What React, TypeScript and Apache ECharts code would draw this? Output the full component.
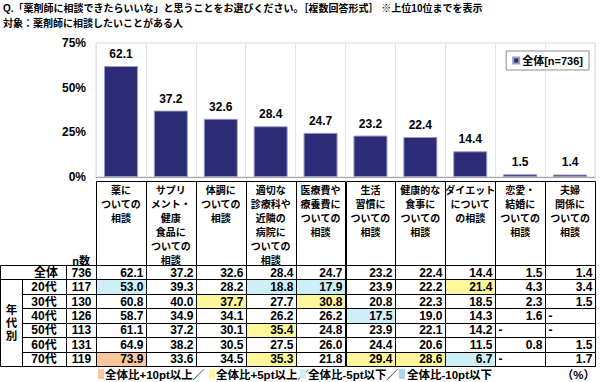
import React, { useEffect, useRef } from "react";
import * as echarts from "echarts";

const TITLE_1 = "Q.「薬剤師に相談できたらいいな」と思うことをお選びください。［複数回答形式］ ※上位10位までを表示";
const TITLE_2 = "対象：薬剤師に相談したいことがある人";

const CATEGORIES = [
  "薬に\nついての\n相談",
  "サプリ\nメント・\n健康\n食品に\nついての\n相談",
  "体調に\nついての\n相談",
  "適切な\n診療科や\n近隣の\n病院に\nついての\n相談",
  "医療費や\n療養費に\nついての\n相談",
  "生活\n習慣に\nついての\n相談",
  "健康的な\n食事に\nついての\n相談",
  "ダイエット\nについて\nの相談",
  "恋愛・\n結婚に\nついての\n相談",
  "夫婦\n関係に\nついての\n相談",
];

const SERIES_NAME = "全体[n=736]";
const OVERALL_LABEL = "全体";
const OVERALL_N = 736;
const OVERALL = [62.1, 37.2, 32.6, 28.4, 24.7, 23.2, 22.4, 14.4, 1.5, 1.4];

const AGE_GROUP_LABEL = "年\n代\n別";
const AGE_LABELS = ["20代", "30代", "40代", "50代", "60代", "70代"];
const AGE_N = [117, 130, 126, 113, 131, 119];
const AGE_20 = [53.0, 39.3, 28.2, 18.8, 17.9, 23.9, 22.2, 21.4, 4.3, 3.4];
const AGE_30 = [60.8, 40.0, 37.7, 27.7, 30.8, 20.8, 22.3, 18.5, 2.3, 1.5];
const AGE_40 = [58.7, 34.9, 34.1, 26.2, 26.2, 17.5, 19.0, 14.3, 1.6, null];
const AGE_50 = [61.1, 37.2, 30.1, 35.4, 24.8, 23.9, 22.1, 14.2, null, null];
const AGE_60 = [64.9, 38.2, 30.5, 27.5, 26.0, 24.4, 20.6, 11.5, 0.8, 1.5];
const AGE_70 = [73.9, 33.6, 34.5, 35.3, 21.8, 29.4, 28.6, 6.7, null, 1.7];
const AGE_VALUES: (number | null)[][] = [AGE_20, AGE_30, AGE_40, AGE_50, AGE_60, AGE_70];

const Y_MIN = 0;
const Y_MAX = 75;
const Y_INTERVAL = 25;

const N_HEADER = "n数";
const LEGEND_ITEMS = ["全体比+10pt以上／", "全体比+5pt以上／", "全体比-5pt以下／", "全体比-10pt以下"];
const UNIT = "（%）";

const C_ORANGE = "#FAC79C";
const C_YELLOW = "#FFF79C";
const C_CYAN = "#CCEFF8";
const C_BLUE = "#A8D4F0";
const BAR_COLOR = "#2C2B76";

const FONT = "'Liberation Sans', 'Noto Sans CJK JP', sans-serif";

function cellColor(v: number | null, base: number): string {
  if (v == null) return "#FFFFFF";
  const d = Math.round((v - base) * 10) / 10;
  if (d >= 10) return C_ORANGE;
  if (d >= 5) return C_YELLOW;
  if (d <= -10) return C_BLUE;
  if (d <= -5) return C_CYAN;
  return "#FFFFFF";
}

const ROW_LABELS = [OVERALL_LABEL, ...AGE_LABELS];
const ROW_N = [OVERALL_N, ...AGE_N];
const ROW_VALUES: (number | null)[][] = [OVERALL, ...AGE_VALUES];

type Cell = { c: number; r: number; v: number | null; fill: string };
const CELLS: Cell[] = [];
ROW_VALUES.forEach((row, r) => {
  row.forEach((v, c) => {
    CELLS.push({ c, r, v, fill: r === 0 ? "#FFFFFF" : cellColor(v, OVERALL[c]) });
  });
});

const HEADER_H = 84;
const px = (v: number) => Math.round(v) + 0.5;

export default function App() {
  const ref = useRef<HTMLDivElement>(null);
  useEffect(() => {
    if (!ref.current) return;
    const chart = echarts.init(ref.current, null, { renderer: "svg" });

    const legendX = [98, 209, 300, 399];
    const legendTextX = [105, 216, 308, 407];

    const option: any = {
      animation: false,
      textStyle: { fontFamily: FONT },
      grid: [
        { left: 96, right: 5, top: 43, bottom: 205, show: true, borderColor: "#D9D9D9", borderWidth: 1 },
        { left: 96, right: 5, top: 265, bottom: 16 },
      ],
      legend: {
        data: [SERIES_NAME],
        right: 11,
        top: 51,
        icon: "rect",
        itemWidth: 6,
        itemHeight: 6,
        itemGap: 4,
        padding: [4, 6, 4, 6],
        borderColor: "#8C8C8C",
        borderWidth: 1,
        backgroundColor: "#FFFFFF",
        textStyle: { fontSize: 11, fontWeight: "bold", color: "#000", fontFamily: FONT, padding: [0, 0, 0, -2] },
      },
      xAxis: [
        {
          type: "category",
          gridIndex: 0,
          data: CATEGORIES,
          axisLine: { show: true, lineStyle: { color: "#A6A6A6" } },
          axisTick: { show: false },
          splitLine: { show: true, lineStyle: { color: "#E3E3E3" } },
          axisLabel: {
            interval: 0,
            margin: 6,
            fontSize: 10,
            lineHeight: 14,
            fontWeight: "bold",
            color: "#000",
            fontFamily: FONT,
          },
        },
        { type: "category", gridIndex: 1, data: CATEGORIES, show: false },
      ],
      yAxis: [
        {
          type: "value",
          gridIndex: 0,
          min: Y_MIN,
          max: Y_MAX,
          interval: Y_INTERVAL,
          axisLine: { show: false },
          axisTick: { show: false },
          splitLine: { show: false },
          axisLabel: { formatter: "{value}%", fontSize: 12, fontWeight: "bold", color: "#000", margin: 10, fontFamily: FONT },
        },
        { type: "category", gridIndex: 1, data: ROW_LABELS, inverse: true, show: false },
      ],
      series: [
        {
          name: SERIES_NAME,
          type: "bar",
          xAxisIndex: 0,
          yAxisIndex: 0,
          data: OVERALL,
          barWidth: 34,
          itemStyle: { color: BAR_COLOR, borderColor: "#9C9CC8", borderWidth: 1 },
          label: {
            show: true,
            position: "top",
            distance: 6,
            fontSize: 12,
            fontWeight: "bold",
            color: "#000",
            fontFamily: FONT,
            formatter: (p: any) => Number(p.value).toFixed(1),
          },
        },
        {
          type: "custom",
          xAxisIndex: 1,
          yAxisIndex: 1,
          data: CELLS.map((cell) => [cell.c, cell.r]),
          renderItem: (params: any, api: any) => {
            const cell = CELLS[params.dataIndex];
            const p = api.coord([cell.c, cell.r]);
            const s = api.size([1, 1]);
            const x0 = px(p[0] - s[0] / 2);
            const x1 = px(p[0] + s[0] / 2);
            const y0 = px(p[1] - s[1] / 2);
            const y1 = px(p[1] + s[1] / 2);
            const children: any[] = [
              {
                type: "rect",
                shape: { x: x0, y: y0, width: x1 - x0, height: y1 - y0 },
                style: { fill: cell.fill, stroke: "#000", lineWidth: 1 },
              },
              {
                type: "text",
                style: {
                  text: cell.v == null ? "-" : cell.v.toFixed(1),
                  x: cell.v == null ? x0 + 3 : x1 - 3,
                  y: p[1] + 0.5,
                  align: cell.v == null ? "left" : "right",
                  verticalAlign: "middle",
                  fontSize: 12,
                  fontWeight: "bold",
                  fontFamily: FONT,
                  fill: "#000",
                },
              },
            ];
            if (cell.r === 0) {
              children.push({
                type: "rect",
                shape: { x: x0, y: y0 - HEADER_H, width: x1 - x0, height: HEADER_H },
                style: { fill: "none", stroke: "#000", lineWidth: 1 },
              });
            }
            return { type: "group", children };
          },
        },
        {
          type: "custom",
          xAxisIndex: 1,
          yAxisIndex: 1,
          data: ROW_LABELS.map((_, r) => [0, r]),
          renderItem: (params: any, api: any) => {
            const r = params.dataIndex;
            const p = api.coord([0, r]);
            const h = api.size([1, 1])[1];
            const y0 = px(p[1] - h / 2);
            const y1 = px(p[1] + h / 2);
            const xa = 0.5, xb = 22.5, xc = 66.5, xd = px(p[0] - api.size([1, 1])[0] / 2);
            const textStyle = (text: string, x: number) => ({
              text,
              x,
              y: p[1] + 0.5,
              align: "center",
              verticalAlign: "middle",
              fontSize: 12,
              fontWeight: "bold",
              fontFamily: FONT,
              fill: "#000",
            });
            const children: any[] = [];
            const labelLeft = r === 0 ? xa : xb;
            children.push({
              type: "rect",
              shape: { x: labelLeft, y: y0, width: xc - labelLeft, height: y1 - y0 },
              style: { fill: "#fff", stroke: "#000", lineWidth: 1 },
            });
            children.push({ type: "text", style: textStyle(ROW_LABELS[r], r === 0 ? 46 : 44) });
            children.push({
              type: "rect",
              shape: { x: xc, y: y0, width: xd - xc, height: y1 - y0 },
              style: { fill: "#fff", stroke: "#000", lineWidth: 1 },
            });
            children.push({ type: "text", style: textStyle(String(ROW_N[r]), (xc + xd) / 2) });
            if (r === 1) {
              const hh = Math.round(h * AGE_LABELS.length);
              children.push({
                type: "rect",
                shape: { x: xa, y: y0, width: xb - xa, height: hh },
                style: { fill: "#fff", stroke: "#000", lineWidth: 1 },
              });
              children.push({
                type: "text",
                style: {
                  text: AGE_GROUP_LABEL,
                  x: (xa + xb) / 2,
                  y: y0 + hh / 2,
                  align: "center",
                  verticalAlign: "middle",
                  fontSize: 11.5,
                  lineHeight: 13,
                  fontWeight: "bold",
                  fontFamily: FONT,
                  fill: "#000",
                },
              });
            }
            return { type: "group", children };
          },
        },
      ],
      graphic: [
        { type: "text", left: 3, top: 3, style: { text: TITLE_1, fontSize: 10, fontWeight: "bold", fill: "#000", fontFamily: FONT } },
        { type: "text", left: 3, top: 18, style: { text: TITLE_2, fontSize: 10, fontWeight: "bold", fill: "#000", fontFamily: FONT } },
        {
          type: "text",
          x: 90,
          y: 261,
          style: { text: N_HEADER, align: "right", verticalAlign: "middle", fontSize: 11, fontWeight: "bold", fill: "#000", fontFamily: FONT },
        },
        ...LEGEND_ITEMS.flatMap((t, i) => [
          {
            type: "rect",
            shape: { x: legendX[i], y: 369, width: 6, height: 10 },
            style: { fill: [C_ORANGE, C_YELLOW, C_CYAN, C_BLUE][i] },
          },
          {
            type: "text",
            x: legendTextX[i],
            y: 374.5,
            style: { text: t, verticalAlign: "middle", fontSize: 11.5, fontWeight: "bold", fill: "#000", fontFamily: FONT },
          },
        ]),
        {
          type: "text",
          x: 595,
          y: 374.5,
          style: { text: UNIT, align: "right", verticalAlign: "middle", fontSize: 11.5, fontWeight: "bold", fill: "#000", fontFamily: FONT },
        },
      ],
    };

    chart.setOption(option);
    return () => chart.dispose();
  }, []);

  return <div ref={ref} style={{ position: "absolute", left: 0, top: 0, width: 600, height: 382 }} />;
}
